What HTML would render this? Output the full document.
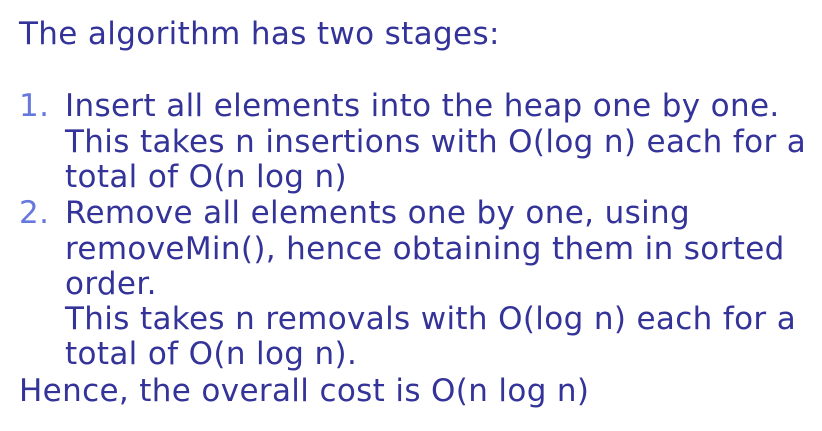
<!DOCTYPE html>
<html><head><meta charset="utf-8"><style>
html,body{margin:0;padding:0;background:#fff;width:822px;height:431px;overflow:hidden}
.l{position:absolute;font-family:"DejaVu Sans","Liberation Sans",sans-serif;font-size:31px;letter-spacing:0.35px;color:#333399;white-space:nowrap;line-height:36px}
.n{color:#6677dd}
</style></head><body>
<div class="l" style="left:19px;top:16px">The algorithm has two stages:</div>
<div class="l n" style="left:19px;top:88px">1.</div>
<div class="l" style="left:65px;top:88px">Insert all elements into the heap one by one.</div>
<div class="l" style="left:65px;top:124px">This takes n insertions with O(log n) each for a</div>
<div class="l" style="left:65px;top:159px">total of O(n log n)</div>
<div class="l n" style="left:19px;top:195px">2.</div>
<div class="l" style="left:65px;top:195px">Remove all elements one by one, using</div>
<div class="l" style="left:65px;top:231px">removeMin(), hence obtaining them in sorted</div>
<div class="l" style="left:65px;top:266px">order.</div>
<div class="l" style="left:65px;top:301px">This takes n removals with O(log n) each for a</div>
<div class="l" style="left:65px;top:336px">total of O(n log n).</div>
<div class="l" style="left:19px;top:373px">Hence, the overall cost is O(n log n)</div>
</body></html>
